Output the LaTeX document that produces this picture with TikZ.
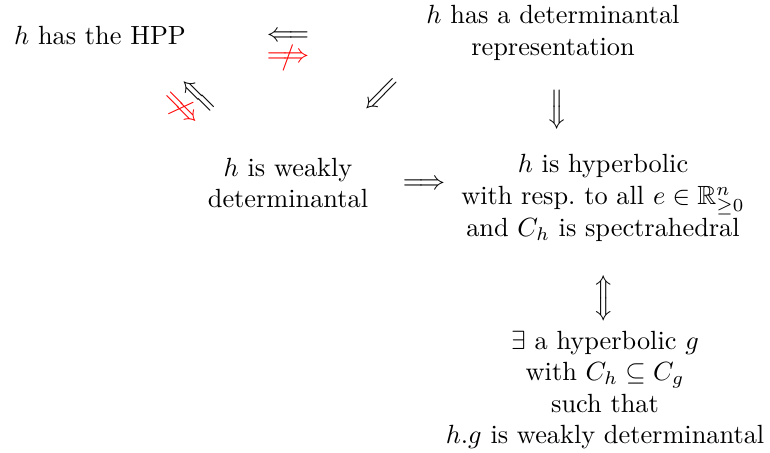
\documentclass[tikz,border=0pt]{standalone}
\usepackage{amsmath,amssymb}
\begin{document}
\begin{tikzpicture}[x=0.01335cm,y=-0.01335cm,
  txt/.style={inner sep=0pt,align=center,font=\normalsize},
  sym/.style={inner sep=0pt}]
\useasboundingbox (0,0) rectangle (770,453);
\node[txt] (hpp) at (100,36) {$h$ has the HPP};
\node[txt] (det) at (553,33) {$h$ has a determinantal\\representation};
\node[txt] (weak) at (288,183) {$h$ is weakly\\determinantal};
\node[txt] (hyp) at (603,198) {$h$ is hyperbolic\\with resp.\ to all $e\in\mathbb{R}^n_{\geq 0}$\\and $C_h$ is spectrahedral};
\node[txt] (ex) at (605,390) {$\exists$ a hyperbolic $g$\\with $C_h\subseteq C_g$\\such that\\$h.g$ is weakly determinantal};
\node[sym] (a1) at (288,37) {$\Longleftarrow$};
\node[sym,red] (a2) at (288,58) {$\Longrightarrow$};
\node[sym,red] (a2s) at (a2.center) {$/$};
\node[sym,rotate=-45] (a3) at (197,97) {$\Longleftarrow$};
\node[sym,red,rotate=-45] (a4) at (181,109) {$\Longrightarrow$};
\node[sym,red,rotate=-45] (a4s) at (a4.center) {$/$};
\node[sym,rotate=45] (a5) at (382,96) {$\Longleftarrow$};
\node[sym,rotate=-90] (a6) at (555,110) {$\Longrightarrow$};
\node[sym] (a7) at (424,185) {$\Longrightarrow$};
\node[sym,rotate=90] (a8) at (605,298) {$\Longleftrightarrow$};
\end{tikzpicture}
\end{document}
